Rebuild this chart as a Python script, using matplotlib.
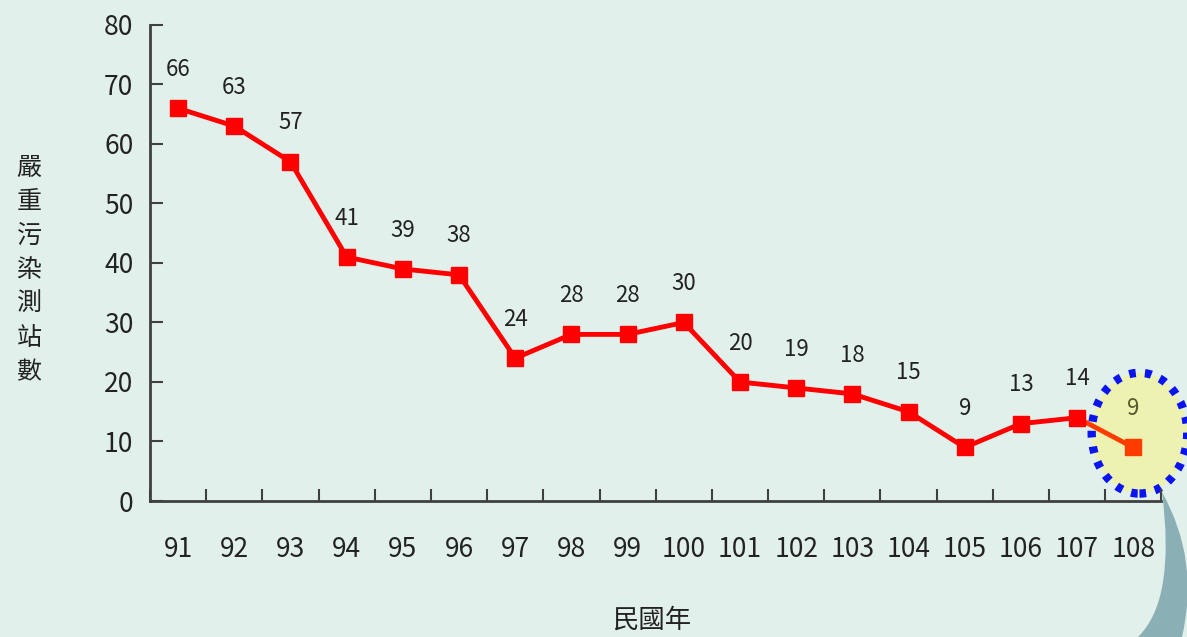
import matplotlib
matplotlib.use("Agg")
import matplotlib.pyplot as plt
from matplotlib.patches import Ellipse, PathPatch
from matplotlib.path import Path
import numpy as np

plt.rcParams['font.family'] = ['Noto Sans CJK TC', 'DejaVu Sans']

years = ['91', '92', '93', '94', '95', '96', '97', '98', '99', '100',
         '101', '102', '103', '104', '105', '106', '107', '108']
counts = [66, 63, 57, 41, 39, 38, 24, 28, 28, 30, 20, 19, 18, 15, 9, 13, 14, 9]

bg = '#e2f0eb'
fig = plt.figure(figsize=(11.87, 6.37), dpi=100, facecolor=bg)
ax = fig.add_axes([0.1264, 0.2135, 0.852, 0.7473])
ax.set_facecolor(bg)

x = np.arange(len(years))
n = len(years)

# highlight ellipse around last point
ell = Ellipse((x[-1] + 0.11, counts[-1] + 2.4), width=1.7, height=20.3,
              facecolor='#eef2b0', edgecolor='#0a14f0', linewidth=6,
              linestyle=(0, (0.8, 1.1)), zorder=1, clip_on=False)
ax.add_patch(ell)

ax.plot(x[:-1], counts[:-1], color='#ff0000', linewidth=3.5, marker='s',
        markersize=11, zorder=3)
ax.plot(x[-2:], counts[-2:], color='#ff3c00', linewidth=3.5, zorder=2)
ax.plot(x[-1:], counts[-1:], color='#ff3c00', marker='s', markersize=11,
        linestyle='none', zorder=3)

for i, (xi, v) in enumerate(zip(x, counts)):
    col = '#5a5a30' if i == n - 1 else '#222222'
    ax.annotate(str(v), (xi, v), xytext=(0, 28), textcoords='offset points',
                ha='center', va='center', fontsize=16, color=col)

ax.set_xlim(-0.5, n - 0.5)
ax.set_ylim(0, 80)
ax.set_yticks(range(0, 81, 10))
ax.set_xticks(x)
ax.set_xticklabels(years)
ax.set_xticks(np.arange(-0.5, n, 1.0), minor=True)
ax.tick_params(axis='x', which='major', length=0, pad=25, labelsize=19,
               labelcolor='#222222')
ax.tick_params(axis='x', which='minor', direction='in', length=9,
               width=1.5, color='#404040')
ax.tick_params(axis='y', direction='in', length=9, width=1.5,
               color='#404040', labelsize=19, labelcolor='#222222', pad=12)

for s in ['top', 'right']:
    ax.spines[s].set_visible(False)
for s in ['left', 'bottom']:
    ax.spines[s].set_color('#404040')
    ax.spines[s].set_linewidth(2)

fig.text(652 / 1187, 1 - 620 / 637, '民國年', ha='center', va='center',
         fontsize=19, color='#222222')
fig.text(29 / 1187, 1 - 270 / 637, '\n'.join('嚴重污染測站數'), ha='center',
         va='center', fontsize=18, color='#222222', linespacing=1.4)

# decorative teal crescent at bottom-right
W, H = 1187, 637
def P(px, py):
    return (px / W, 1 - py / H)
verts = [P(1162, 492), P(1200, 560), P(1182, 637), P(1148, 637),
         P(1138, 637), P(1176, 600), P(1162, 492), P(1162, 492)]
codes = [Path.MOVETO, Path.CURVE3, Path.CURVE3, Path.LINETO,
         Path.LINETO, Path.CURVE3, Path.CURVE3, Path.CLOSEPOLY]
crescent = PathPatch(Path(verts, codes), transform=fig.transFigure,
                     facecolor='#8aafb5', edgecolor='none')
fig.patches.append(crescent)

fig.savefig('out.png', dpi=100, facecolor=bg)
